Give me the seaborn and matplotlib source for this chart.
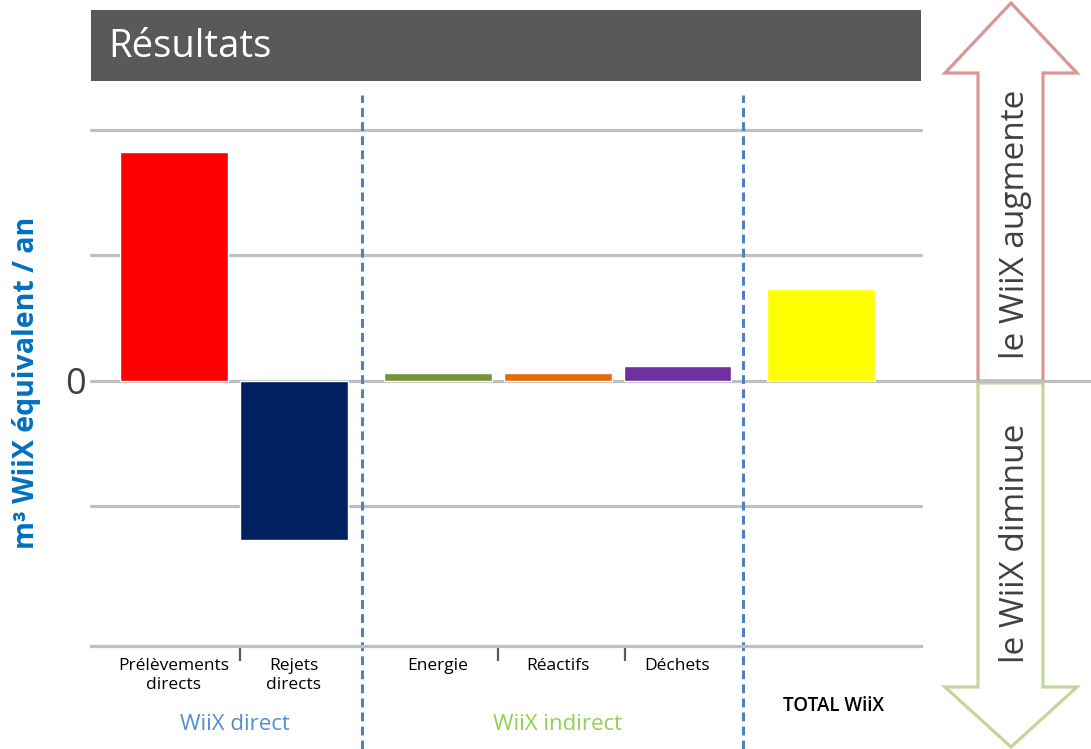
import matplotlib.pyplot as plt
import seaborn as sns
import pandas as pd
from matplotlib.patches import Polygon, Rectangle
from matplotlib.lines import Line2D

# data (arbitrary units, one gridline = 1)
categories = ["Prélèvements\ndirects", "Rejets\ndirects", "Energie", "Réactifs", "Déchets", "TOTAL WiiX"]
values = [1.825, -1.27, 0.064, 0.064, 0.12, 0.733]
bar_colors = ["#FF0000", "#002060", "#77933C", "#E36C09", "#7030A0", "#FFFF00"]
groups = ["WiiX direct", "WiiX indirect"]

# layout
slot_x = [0, 1, 2.2, 3.2, 4.2, 5.4]
sep_x = [1.57, 4.75]
minor_x = [0.55, 2.7, 3.76]
W, H = 1091, 749


def fp(x, y):
    # pixel -> figure fraction
    return (x / W, 1 - y / H)


df = pd.DataFrame({"pos": slot_x, "cat": categories, "val": values})

sns.set_style("white")
plt.rcParams['font.family'] = ['Open Sans', 'DejaVu Sans']

fig = plt.figure(figsize=(W / 100, H / 100), dpi=100)
ax = fig.add_axes([91 / W, 1 - 646 / H, 830 / W, 516 / H])

sns.barplot(data=df, x="pos", y="val", hue="cat", palette=bar_colors,
            native_scale=True, dodge=False, width=0.9, saturation=1,
            legend=False, orient="x", ax=ax)

ax.set_xlim(-0.69, 6.23)
ax.set_ylim(-2.112, 2)
ax.set_xlabel('')
ax.set_ylabel('')
for s in ax.spines.values():
    s.set_visible(False)
ax.spines['bottom'].set_visible(True)
ax.spines['bottom'].set_color('#BFBFBF')
ax.spines['bottom'].set_linewidth(2.3)

ax.set_yticks([-1, 0, 1, 2], ['', '0', '', ''])
ax.tick_params(axis='y', length=0, labelsize=26, labelcolor='#404040', pad=4)
ax.yaxis.grid(True, color='#BFBFBF', lw=2.3)
ax.xaxis.grid(False)
ax.set_axisbelow(True)
for gl in ax.get_ygridlines():
    gl.set_clip_on(False)

ax.set_xticks(slot_x[:5], categories[:5])
ax.set_xticks(minor_x, minor=True)
ax.tick_params(axis='x', which='major', length=0, labelsize=12.5, pad=9, labelcolor='black')
ax.tick_params(axis='x', which='minor', bottom=True, length=11, width=1.6, color='#595959',
               direction='out')

# group separators
for xv in sep_x:
    ax.axvline(xv, ymin=-0.2, ymax=1.068, clip_on=False, color='#4F81BD', lw=2.2, ls=(0, (2.9, 1.7)))

tr = ax.get_xaxis_transform()
ax.text(0.51, -0.153, groups[0], transform=tr, ha='center', va='center', fontsize=16, color='#558ED5')
ax.text(3.2, -0.153, groups[1], transform=tr, ha='center', va='center', fontsize=16, color='#92D050')
ax.text(5.5, -0.116, categories[5], transform=tr, ha='center', va='center', fontsize=13.5,
        fontweight='semibold', color='black')

fig.text(*fp(27, 383), "m³ WiiX équivalent / an", rotation=90, ha='center', va='center',
         fontsize=20.5, fontweight='bold', color='#0070C0')

# title banner
fig.add_artist(Rectangle(fp(91, 81), 830 / W, 71 / H, transform=fig.transFigure,
                         facecolor='#595959', edgecolor='none'))
fig.text(*fp(108, 47), "Résultats", ha='left', va='center', fontsize=27.5, color='white')

# side arrows
up = [(978, 381), (978, 73), (945, 73), (1011, 3), (1077, 73), (1043, 73), (1043, 381)]
down = [(978, 383), (978, 687), (945, 687), (1011, 747), (1077, 687), (1043, 687), (1043, 383)]
fig.add_artist(Polygon([fp(*p) for p in up], closed=True, transform=fig.transFigure,
                       facecolor='white', edgecolor='#D99694', lw=2.3))
fig.add_artist(Polygon([fp(*p) for p in down], closed=True, transform=fig.transFigure,
                       facecolor='white', edgecolor='#C3D69B', lw=2.3))
x0, y0 = fp(921, 381)
x1, _ = fp(1091, 381)
fig.add_artist(Line2D([x0, x1], [y0, y0], transform=fig.transFigure, color='#BFBFBF', lw=2.3))

fig.text(*fp(1015, 224), "le WiiX augmente", rotation=90, ha='center', va='center',
         fontsize=24, color='#404040')
fig.text(*fp(1015, 543), "le WiiX diminue", rotation=90, ha='center', va='center',
         fontsize=24, color='#404040')

fig.savefig("out.png", dpi=100)
